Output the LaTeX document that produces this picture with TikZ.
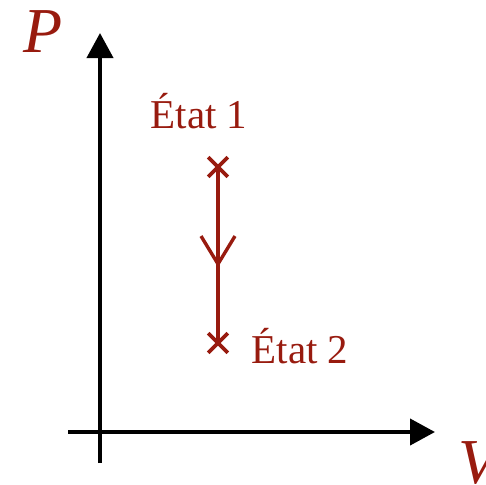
\documentclass[tikz,border=0pt]{standalone}
\usepackage{fontspec}
\setmainfont{Liberation Serif}
\usetikzlibrary{positioning,arrows.meta,calc,shapes.misc,decorations.markings}
\definecolor{stateRed}{HTML}{981B0F}

\begin{document}
\begin{tikzpicture}[x=1pt, y=1pt,
          axis/.style={line width=2pt, -{Triangle[length=12.5pt, width=13pt]}},
          axlabel/.style={text=stateRed, font=\fontsize{32}{36}\selectfont\itshape, inner sep=0pt},
          statept/.style={cross out, draw=stateRed, line width=1.8pt, minimum size=8pt, inner sep=0pt},
          statelbl/.style={text=stateRed, font=\fontsize{20.5}{24}\selectfont, inner sep=0pt, anchor=base},
          path/.style={draw=stateRed, line width=1.7pt,
            postaction={decorate, decoration={markings, mark=at position 0.57 with
              {\arrow[stateRed, line width=1.7pt]{Straight Barb[length=14pt, width=17pt]}}}}}]
        \useasboundingbox (0,0) rectangle (243,242);
        % axes
        \coordinate (vlow) at (50,10.5);
        \coordinate (vtop) at (50,225.5);
        \coordinate (hlow) at (34,26);
        \coordinate (htop) at (217.5,26);
        \draw[axis] (vlow) -- (vtop);
        \draw[axis] (hlow) -- (htop);
        \node[axlabel, anchor=base] (p) at (21.5,216) {P};
        \node[axlabel, anchor=base west] (v) at (229,0.5) {V};
        % states
        \node[statept] (e1) at (109,158.5) {};
        \node[statept] (e2) at (109,70.5) {};
        \path[path] (e1.center) -- (e2.center);
        \node[statelbl] (l1) at ($(e1)+(-9.5,19.5)$) {État 1};
        \node[statelbl] (l2) at ($(e2)+(41,-10)$) {État 2};
      \end{tikzpicture}
\end{document}
